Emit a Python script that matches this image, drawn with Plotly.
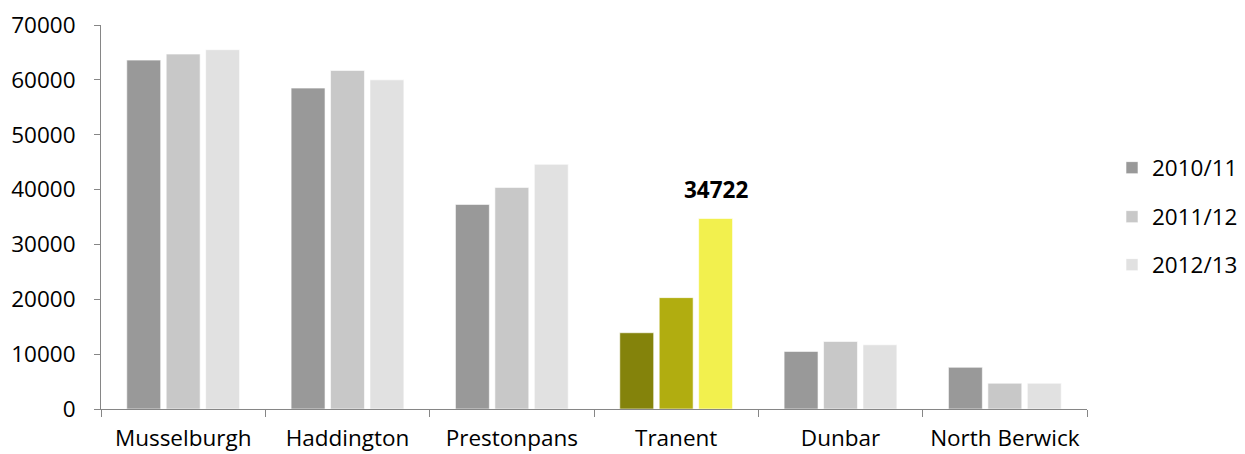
import plotly.graph_objects as go

towns = ["Musselburgh", "Haddington", "Prestonpans", "Tranent", "Dunbar", "North Berwick"]
years = ["2010/11", "2011/12", "2012/13"]
visits_2010 = [63600, 58500, 37300, 13900, 10500, 7600]
visits_2011 = [64700, 61700, 40400, 20300, 12300, 4700]
visits_2012 = [65500, 60000, 44600, 34722, 11700, 4700]
series = [visits_2010, visits_2011, visits_2012]

grey = ["#999999", "#c8c8c8", "#e1e1e1"]
highlight = ["#84830b", "#b1ad10", "#f2f04e"]
focus_town = "Tranent"

FONT = "Open Sans, Calibri, Carlito, sans-serif"
SIZE = 22.5
W, H = 1245, 454

fig = go.Figure()
legend_ids = ["legend", "legend2", "legend3"]
for i, (yr, vals) in enumerate(zip(years, series)):
    colors = [highlight[i] if t == focus_town else grey[i] for t in towns]
    fig.add_trace(go.Bar(
        name=yr, x=towns, y=vals,
        marker=dict(color=colors, line=dict(color="white", width=0.6)),
        legend=legend_ids[i],
    ))

# bold value label over the highlighted 2012/13 bar
focus_val = visits_2012[towns.index(focus_town)]
fig.add_annotation(
    x=focus_town, y=focus_val, text=f"<b>{focus_val}</b>",
    showarrow=False, xshift=40, yshift=29,
    font=dict(family=FONT, size=SIZE, color="black"),
)

# one legend box per season, stacked with wide spacing on the right
legend_style = dict(
    xref="container", yref="container",
    x=1112 / W, xanchor="left", yanchor="middle",
    font=dict(family=FONT, size=SIZE, color="black"),
    bgcolor="rgba(0,0,0,0)", itemwidth=30,
)
fig.update_layout(
    width=W, height=H,
    margin=dict(l=101, r=158, t=25, b=45, autoexpand=False),
    plot_bgcolor="white", paper_bgcolor="white",
    barmode="group", bargap=0.28, bargroupgap=0.14,
    showlegend=True,
    legend=dict(y=1 - 168 / H, **legend_style),
    legend2=dict(y=1 - 217 / H, **legend_style),
    legend3=dict(y=1 - 265 / H, **legend_style),
    font=dict(family=FONT, size=SIZE, color="black"),
)
fig.update_xaxes(
    showline=True, linecolor="#868686", linewidth=1,
    ticks="outside", tickson="boundaries", ticklen=7, tickcolor="#868686",
    tickfont=dict(family=FONT, size=SIZE, color="black"),
    ticklabelstandoff=9, automargin=False,
    showgrid=False,
)
fig.update_yaxes(
    range=[0, 70000], dtick=10000, tickformat="d",
    showline=True, linecolor="#868686", linewidth=1,
    ticks="outside", ticklen=6, tickcolor="#868686",
    tickfont=dict(family=FONT, size=SIZE, color="black"),
    ticklabelstandoff=14, automargin=False,
    showgrid=False, zeroline=False,
)

fig.write_html("out.html")
